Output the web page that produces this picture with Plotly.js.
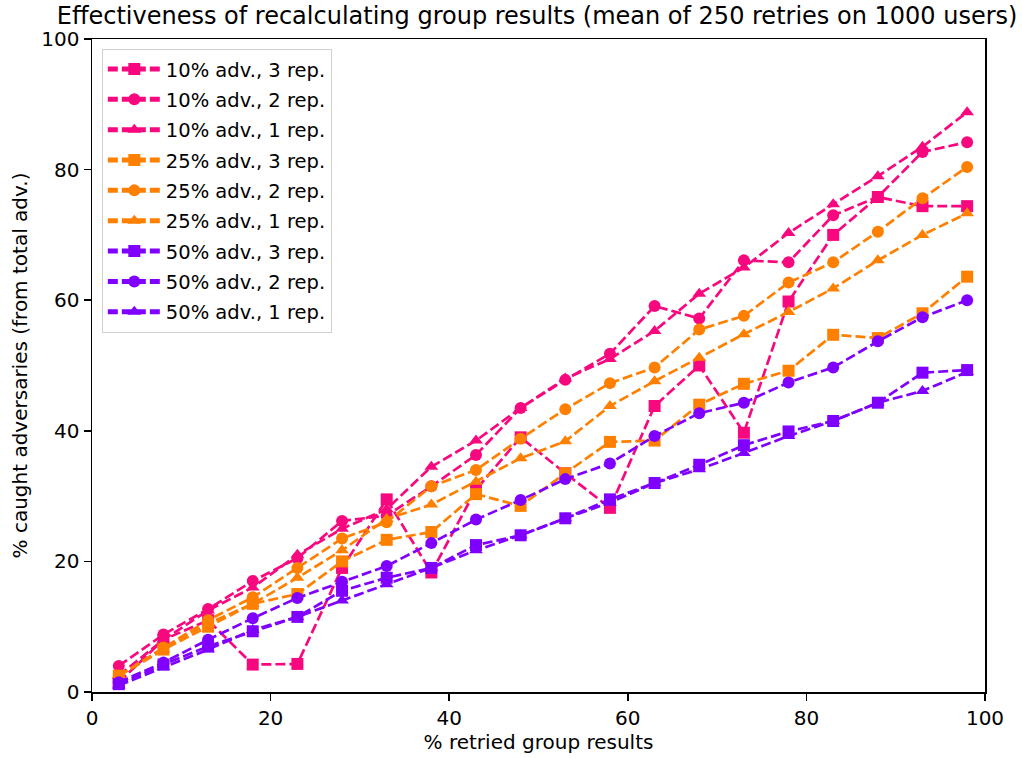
<!DOCTYPE html>
<html><head><meta charset="utf-8">
<script src="https://cdn.plot.ly/plotly-3.0.1.min.js"></script>
<style>body{margin:0;background:#fff}#chart{width:1023px;height:758px}</style>
</head><body><div id="chart"></div>
<script>
const xVals = [3,8,13,18,23,28,33,38,43,48,53,58,63,68,73,78,83,88,93,98];
const adv10rep3 = [1.5,8,11,4.2,4.3,19,29.5,18.3,31,39,33.5,28.2,43.8,50,39.7,59.8,70,75.8,74.4,74.4];
const adv10rep2 = [4.0,8.8,12.7,17,20.5,26.2,27,31.5,36.3,43.5,47.8,51.8,59.1,57.2,66.1,65.8,73,75.8,82.7,84.2];
const adv10rep1 = [2.5,8,12.5,16,21,25,28,34.5,38.5,43.5,48,51,55.3,61,65,70.3,74.7,79,83.5,88.8];
const adv25rep3 = [2.5,6.5,10,13.5,15,20,23.3,24.5,30.3,28.5,33.5,38.3,38.5,44,47.2,49.2,54.7,54.2,58,63.6];
const adv25rep2 = [2.5,6.8,11,14.5,19,23.5,26,31.5,34,38.8,43.3,47.3,49.7,55.5,57.6,62.7,65.8,70.5,75.6,80.4];
const adv25rep1 = [2.5,6.5,10.5,13.5,17.5,21.7,26.5,28.7,32.2,35.8,38.4,43.8,47.6,51.2,54.8,58.2,61.8,66.1,70,73.3];
const adv50rep3 = [1.2,4.2,7,9.3,11.5,15.5,17.5,19,22.5,24,26.6,29.5,32,34.8,37.8,39.9,41.5,44.3,48.9,49.3];
const adv50rep2 = [1.5,4.5,8,11.3,14.4,16.9,19.3,22.8,26.4,29.4,32.6,35,39.2,42.7,44.3,47.4,49.7,53.7,57.4,60];
const adv50rep1 = [1.0,3.8,6.5,9.5,11.5,14,16.5,19,21.7,24,26.6,29,32,34.1,36.6,39.2,41.5,44.3,46.1,49];

const names = ["10% adv., 3 rep.","10% adv., 2 rep.","10% adv., 1 rep.",
               "25% adv., 3 rep.","25% adv., 2 rep.","25% adv., 1 rep.",
               "50% adv., 3 rep.","50% adv., 2 rep.","50% adv., 1 rep."];
const series = [adv10rep3,adv10rep2,adv10rep1,adv25rep3,adv25rep2,adv25rep1,adv50rep3,adv50rep2,adv50rep1];
const colors = ["#f7087f","#f7087f","#f7087f","#ff8000","#ff8000","#ff8000","#8000ff","#8000ff","#8000ff"];
const symbols = ["square","circle","triangle-up","square","circle","triangle-up","square","circle","triangle-up"];

const traces = series.map((y,i)=>({
  x: xVals, y: y, name: names[i], type:"scatter", mode:"lines+markers",
  legendgroup: "g"+i,
  line:{color:colors[i], width:2.7, dash:"10px,4px"},
  marker:{color:colors[i], symbol:symbols[i], size:12}
}));

const font = "DejaVu Sans, sans-serif";
const layout = {
  width:1023, height:758,
  paper_bgcolor:"#fff", plot_bgcolor:"#fff",
  margin:{l:92, r:38, t:39, b:66},
  font:{family:font, size:20, color:"#000"},
  title:{text:"Effectiveness of recalculating group results (mean of 250 retries on 1000 users)",
         font:{family:font, size:24, color:"#000"}, x:0.525, xanchor:"center", y:0.979, yanchor:"middle"},
  xaxis:{range:[0,100], tickvals:[0,20,40,60,80,100], ticks:"outside", ticklen:7, tickwidth:1.5, tickcolor:"#000",
         showline:true, linecolor:"#000", linewidth:1.5, mirror:true, showgrid:false, zeroline:false,
         tickfont:{size:20, family:font},
         title:{text:"% retried group results", font:{size:20, family:font}, standoff:4}},
  yaxis:{range:[0,100], tickvals:[0,20,40,60,80,100], ticks:"outside", ticklen:7, tickwidth:1.5, tickcolor:"#000",
         showline:true, linecolor:"#000", linewidth:1.5, mirror:true, showgrid:false, zeroline:false,
         tickfont:{size:20, family:font},
         title:{text:"% caught adversaries (from total adv.)", font:{size:20, family:font}, standoff:8}},
  legend:{x:0.011, y:0.985, xanchor:"left", yanchor:"top", bgcolor:"rgba(255,255,255,0.8)",
          bordercolor:"#d0d0d0", borderwidth:1, font:{size:19.5, family:font},
          tracegroupgap:2, itemwidth:53, itemsizing:"constant"}
};
Plotly.newPlot("chart", traces, layout, {displayModeBar:false, staticPlot:true});
</script></body></html>
